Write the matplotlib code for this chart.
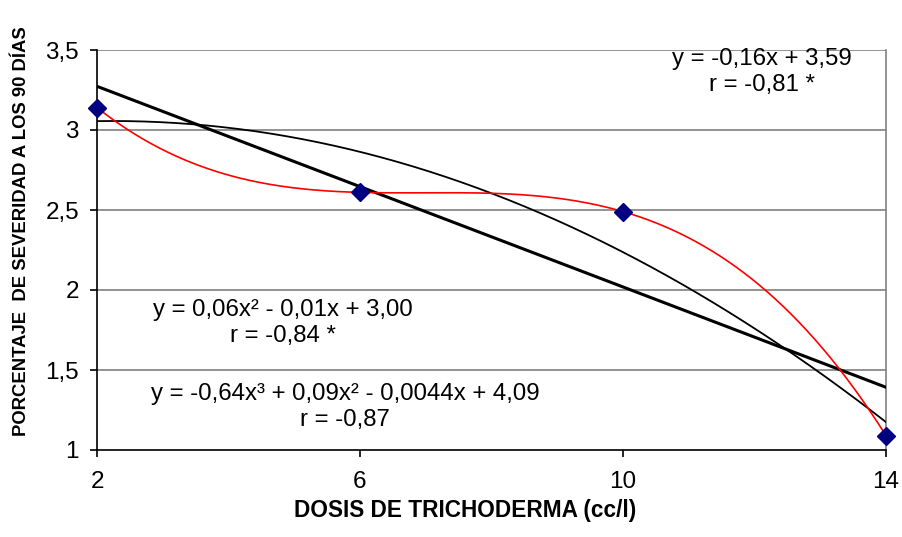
import numpy as np
import matplotlib
matplotlib.use("Agg")
import matplotlib.pyplot as plt

plt.rcParams["font.family"] = ["Liberation Sans", "DejaVu Sans"]

# data
dosis = [2, 6, 10, 14]
severidad = [3.14, 2.61, 2.49, 1.09]
yticks = [1, 1.5, 2, 2.5, 3, 3.5]
ytick_labels = ["1", "1,5", "2", "2,5", "3", "3,5"]

eq_lin = "y = -0,16x + 3,59\nr = -0,81 *"
eq_quad = "y = 0,06x² - 0,01x + 3,00\nr = -0,84 *"
eq_cub = "y = -0,64x³ + 0,09x² - 0,0044x + 4,09\nr = -0,87"

W, H = 902, 537
fig = plt.figure(figsize=(W / 100, H / 100), dpi=100)
ax = fig.add_axes([97 / W, 87 / H, (886 - 97) / W, 400 / H])

# trend lines fitted to the four points (linear, quadratic, cubic)
xs = np.linspace(2, 14, 300)
p1 = np.polyfit(dosis, severidad, 1)
p2 = np.polyfit(dosis, severidad, 2)
p3 = np.polyfit(dosis, severidad, 3)
ax.plot(xs, np.polyval(p1, xs), color="black", lw=2.2, zorder=3)
ax.plot(xs, np.polyval(p2, xs), color="black", lw=1.3, zorder=3)
ax.plot(xs, np.polyval(p3, xs), color="red", lw=1.2, zorder=4)
ax.plot(dosis, severidad, ls="none", marker="D", ms=9.5, color="#000080",
        markeredgecolor="#000080", zorder=5, clip_on=False)

ax.set_xlim(2, 14)
ax.set_ylim(1, 3.5)
ax.set_xticks(dosis)
ax.set_xticklabels([str(d) for d in dosis])
ax.set_yticks(yticks)
ax.set_yticklabels(ytick_labels)
for y in yticks[1:]:
    ax.axhline(y, color="#808080", lw=1.2, zorder=1)

ax.spines["top"].set_visible(False)
ax.spines["right"].set_color("#808080")
ax.spines["right"].set_linewidth(1.2)
ax.spines["left"].set_linewidth(1.2)
ax.spines["bottom"].set_linewidth(1.2)
ax.tick_params(axis="both", direction="out", length=5, width=1.2, labelsize=17.5)
ax.tick_params(axis="y", pad=8)
ax.tick_params(axis="x", pad=10)

fig.text(465 / W, 1 - 510 / H, "DOSIS DE TRICHODERMA (cc/l)", fontsize=16.3,
         fontweight="bold", ha="center", va="center")
fig.text(22 / W, 1 - 231 / H, "PORCENTAJE  DE SEVERIDAD A LOS 90 DÍAS", fontsize=13.3,
         fontweight="bold", ha="center", va="center", rotation=90)

for txt, cx, cy in [(eq_lin, 762, 72), (eq_quad, 283, 323), (eq_cub, 345, 407)]:
    fig.text(cx / W, 1 - cy / H, txt, fontsize=17.3, ha="center", va="center",
             linespacing=1.2)

fig.savefig("out.png", dpi=100)
